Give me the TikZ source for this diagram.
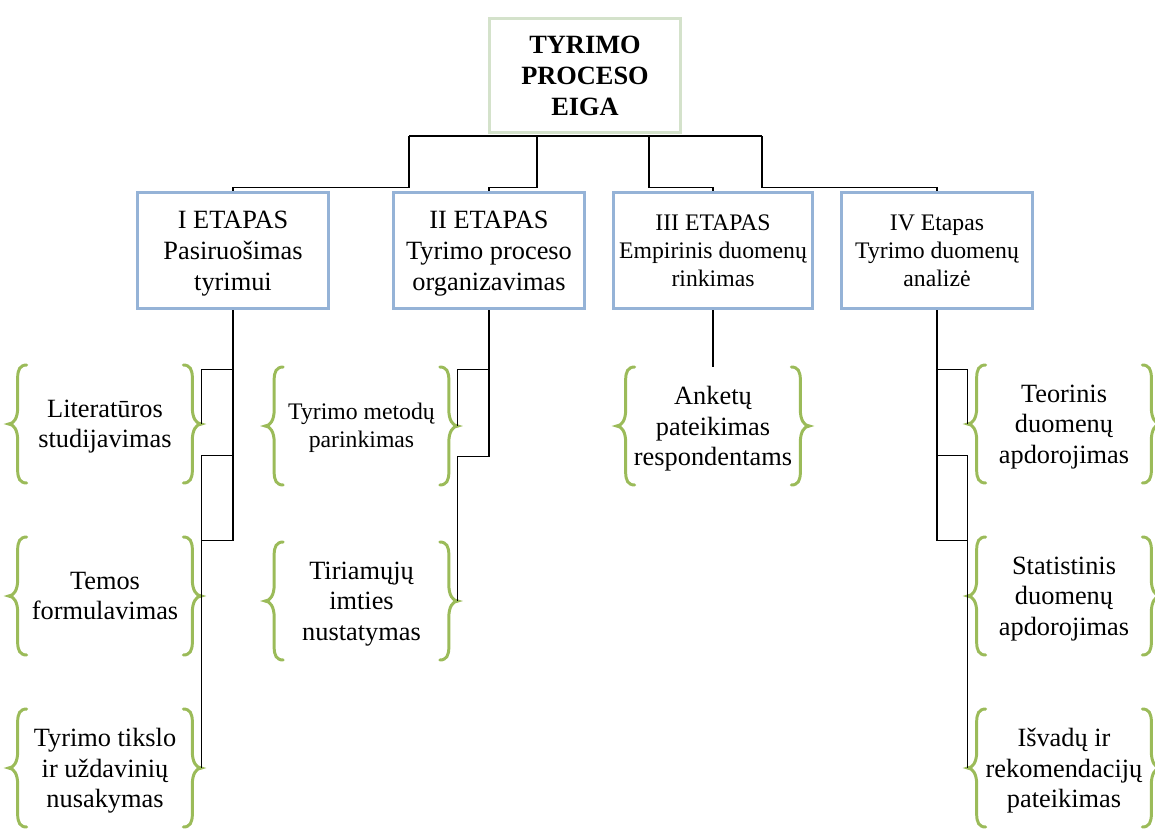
\documentclass[tikz,border=0pt]{standalone}
\usepackage{fontspec}
\setmainfont{Liberation Serif}

\definecolor{stageblue}{RGB}{149,179,215}
\definecolor{headgreen}{RGB}{212,226,203}
\definecolor{bracegreen}{RGB}{155,187,89}

\tikzset{
    link/.style       = {line width=0.6pt, black},
    headbox/.style    = {draw=headgreen, line width=1.7pt, minimum width=3.82cm, minimum height=2.28cm,
                         align=center, font=\fontsize{15}{17.6}\selectfont\bfseries, text depth=-2pt},
    stagebox/.style   = {draw=stageblue, line width=1.8pt, minimum width=3.82cm, minimum height=2.32cm,
                         align=center, font=\fontsize{15}{17.6}\selectfont, text depth=0pt},
    stagesmall/.style = {stagebox, font=\fontsize{13.5}{16}\selectfont, text depth=-1.8pt},
    item/.style       = {minimum width=3.84cm, minimum height=2.36cm, inner sep=0pt,
                         align=center, font=\fontsize{15}{17.3}\selectfont, text depth=-0.5pt},
    itemsmall/.style  = {item, font=\fontsize{13.5}{15.6}\selectfont, text depth=0.8pt},
    bracket/.style    = {draw=bracegreen, line width=1.7pt, line cap=round},
    lbrace/.pic       = {\draw[bracket] (18,-59) .. controls (11,-59) and (9,-54) .. (9,-46)
                          -- (9,-16) .. controls (9,-6) and (5,0) .. (0,0)
                          .. controls (5,0) and (9,6) .. (9,16)
                          -- (9,46) .. controls (9,54) and (11,59) .. (18,59);}
}

% green braces on both sides of an item
\newcommand{\itembraces}[1]{%
    \pic at (#1.west) {lbrace};
    \pic[xscale=-1] at (#1.east) {lbrace};
}

\begin{document}
\begin{tikzpicture}[x=0.02cm, y=-0.02cm]

    \useasboundingbox (0,0) rectangle (1155,831);

    % =================================================
    % 1. Head and stages
    % =================================================
    \node[headbox] (Head) at (585,75.5) {TYRIMO\\PROCESO\\EIGA};

    \node[stagebox]   (S1) at (233,250.5) {I ETAPAS\\Pasiruošimas\\tyrimui};
    \node[stagebox]   (S2) at (489,250.5) {II ETAPAS\\Tyrimo proceso\\organizavimas};
    \node[stagesmall] (S3) at (713,250.5) {III ETAPAS\\Empirinis duomenų\\rinkimas};
    \node[stagesmall] (S4) at (937,250.5) {IV Etapas\\Tyrimo duomenų\\analizė};

    % ---------- bus under the head ----------
    \coordinate (t1) at (409,136);
    \coordinate (t2) at (537,136);
    \coordinate (t3) at (649,136);
    \coordinate (t4) at (762,136);
    \draw[link] (t1) -- (t4);

    \draw[link] (S1.north) -- ++(0,-3) -| (t1);
    \draw[link] (S2.north) -- ++(0,-3) -| (t2);
    \draw[link] (S3.north) -- ++(0,-3) -| (t3);
    \draw[link] (S4.north) -- ++(0,-3) -| (t4);

    % =================================================
    % 2. Items
    % =================================================
    \node[item] (L1) at (105,424) {Literatūros\\studijavimas};
    \node[item] (L2) at (105,596) {Temos\\formulavimas};
    \node[item] (L3) at (105,768) {Tyrimo tikslo\\ir uždavinių\\nusakymas};

    \node[itemsmall] (M1) at (361.5,426) {Tyrimo metodų\\parinkimas};
    \node[item]      (M2) at (361.5,601) {Tiriamųjų\\imties\\nustatymas};

    \node[item] (A1) at (713,426) {Anketų\\pateikimas\\respondentams};

    \node[item] (R1) at (1064,424) {Teorinis\\duomenų\\apdorojimas};
    \node[item] (R2) at (1064,596) {Statistinis\\duomenų\\apdorojimas};
    \node[item] (R3) at (1064,768) {Išvadų ir\\rekomendacijų\\pateikimas};

    \foreach \n in {L1,L2,L3,M1,M2,A1,R1,R2,R3} {
        \itembraces{\n}
    }

    % =================================================
    % 3. Links from stages to items
    % =================================================
    \draw[link] (S1.south) -- ++(0,59.5)  -| (L1.east);
    \draw[link] (S1.south) -- ++(0,145.5) -| (L3.east);
    \draw[link] (S1.south) -- ++(0,230.5) -| (L2.east);

    \draw[link] (S2.south) -- ++(0,59.5)  -| (M1.east);
    \draw[link] (S2.south) -- ++(0,146.5) -| (M2.east);

    \draw[link] (S3.south) -- (A1.north);

    \draw[link] (S4.south) -- ++(0,59.5)  -| (R1.west);
    \draw[link] (S4.south) -- ++(0,145.5) -| (R3.west);
    \draw[link] (S4.south) -- ++(0,230.5) -| (R2.west);

\end{tikzpicture}
\end{document}
